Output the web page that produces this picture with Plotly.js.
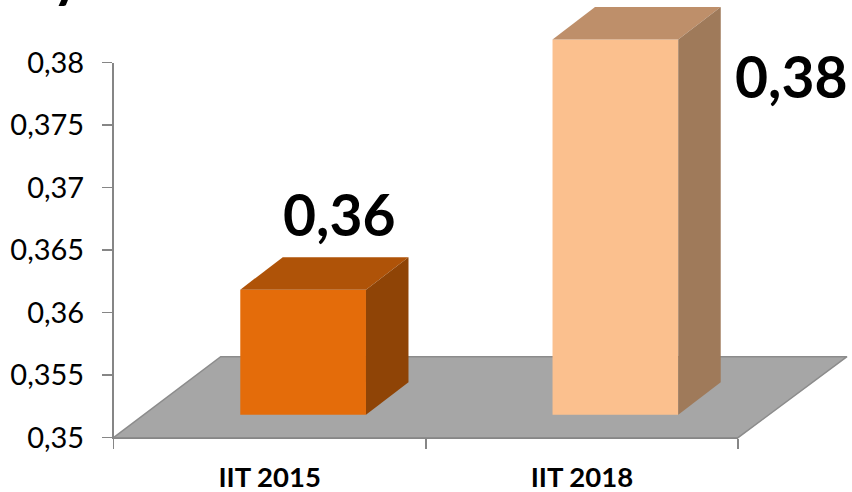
<!DOCTYPE html>
<html>
<head>
<meta charset="utf-8">
<script src="https://cdn.plot.ly/plotly-3.0.1.min.js"></script>
<style>html,body{margin:0;padding:0;background:#fff;overflow:hidden}#c{width:852px;height:492px}</style>
</head>
<body>
<div id="c"></div>
<script>
var categories = ['IIT 2015', 'IIT 2018'];
var values = [0.36, 0.38];
var valueLabels = ['0,36', '0,38'];
var tickValues = [0.35, 0.355, 0.36, 0.365, 0.37, 0.375, 0.38];
var tickLabels = ['0,35', '0,355', '0,36', '0,365', '0,37', '0,375', '0,38'];
var frontColors = ['#E46C0A', '#FBC08E'];
var topColors = ['#AF5308', '#BE8F6A'];
var sideColors = ['#8F4406', '#9F7A5A'];

var W = 852, H = 492;
var axL = 113.5, axR = 738, axB = 437.7, axT = 62.5;
var pxX = (axR - axL) / 2, pxY = (axB - axT) / 0.03;
var fullX = [-0.5 - axL / pxX, -0.5 + (W - axL) / pxX];
var fullY = [0.35 - (H - axB) / pxY, 0.35 + axB / pxY];

var barW = 125.7 / pxX, shiftX = 33.5 / pxX, shiftY = 23 / pxY;
var depthX = 42.5 / pxX, depthY = 32.5 / pxY;

var traces = [];
// floor
traces.push({
  type: 'scatter', mode: 'lines', xaxis: 'x', yaxis: 'y', fill: 'toself',
  x: [-0.5, 1.5, 1.5 + 109 / pxX, -0.5 + 107.2 / pxX, -0.5],
  y: [0.35, 0.35, 0.35 + 81 / pxY, 0.35 + 81 / pxY, 0.35],
  fillcolor: '#A6A6A6', line: {color: '#8C8C8C', width: 1.5},
  hoverinfo: 'skip', showlegend: false
});
// category axis carrier
traces.push({
  type: 'bar', xaxis: 'x2', yaxis: 'y2', x: categories, y: values,
  marker: {color: 'rgba(0,0,0,0)'}, hoverinfo: 'skip', showlegend: false, cliponaxis: true
});
// bars: front, top, side
var fx = values.map(function (v, i) { return i + shiftX; });
traces.push({
  type: 'bar', xaxis: 'x3', yaxis: 'y3', x: fx,
  y: values.map(function (v) { return v - 0.35; }),
  base: values.map(function () { return 0.35 + shiftY; }),
  width: values.map(function () { return barW; }),
  marker: {color: frontColors, line: {width: 0}},
  hoverinfo: 'skip', showlegend: false
});
values.forEach(function (v, i) {
  var l = fx[i] - barW / 2, r = fx[i] + barW / 2, b = 0.35 + shiftY, t = v + shiftY;
  traces.push({
    type: 'scatter', mode: 'lines', xaxis: 'x3', yaxis: 'y3', fill: 'toself',
    x: [l, r, r + depthX, l + depthX, l],
    y: [t, t, t + depthY, t + depthY, t],
    fillcolor: topColors[i], line: {width: 0}, hoverinfo: 'skip', showlegend: false
  });
  traces.push({
    type: 'scatter', mode: 'lines', xaxis: 'x3', yaxis: 'y3', fill: 'toself',
    x: [r, r + depthX, r + depthX, r, r],
    y: [b, b + depthY, t + depthY, t, b],
    fillcolor: sideColors[i], line: {width: 0}, hoverinfo: 'skip', showlegend: false
  });
});

var hidden = {visible: false, fixedrange: true};
var labelPos = [{x: 339.5, y: 214}, {x: 791.5, y: 76}];
var layout = {
  width: W, height: H, autosize: false,
  margin: {l: 0, r: 0, t: 0, b: 0, pad: 0},
  paper_bgcolor: '#fff', plot_bgcolor: 'rgba(0,0,0,0)',
  showlegend: false, barmode: 'overlay',
  font: {family: 'Lato, sans-serif', color: '#000'},
  xaxis: Object.assign({domain: [0, 1], range: fullX, anchor: 'y'}, hidden),
  yaxis: Object.assign({domain: [0, 1], range: fullY, anchor: 'x'}, hidden),
  xaxis2: {
    domain: [axL / W, axR / W], anchor: 'y2', type: 'category', range: [-0.5, 1.5],
    categoryorder: 'array', categoryarray: categories, tickson: 'boundaries',
    showline: true, linecolor: '#868686', linewidth: 1.5, showgrid: false, zeroline: false,
    ticks: 'outside', ticklen: 10, tickwidth: 1.5, tickcolor: '#868686',
    ticklabelstandoff: 15, tickfont: {family: 'Lato, sans-serif', size: 27.5, color: '#000', weight: 'bold'},
    fixedrange: true
  },
  yaxis2: {
    domain: [(H - axB) / H, (H - axT) / H], anchor: 'x2', range: [0.35, 0.38],
    tickvals: tickValues, ticktext: tickLabels,
    showline: true, linecolor: '#868686', linewidth: 1.5, showgrid: false, zeroline: false,
    ticks: 'outside', ticklen: 10, tickwidth: 1.5, tickcolor: '#868686',
    ticklabelstandoff: 12, tickfont: {family: 'Lato, sans-serif', size: 29, color: '#000'},
    fixedrange: true
  },
  xaxis3: Object.assign({domain: [0, 1], range: fullX, anchor: 'y3'}, hidden),
  yaxis3: Object.assign({domain: [0, 1], range: fullY, anchor: 'x3'}, hidden),
  annotations: valueLabels.map(function (t, i) {
    return {
      text: '<b>' + t + '</b>', showarrow: false, xref: 'x3', yref: 'y3',
      x: -0.5 + (labelPos[i].x - axL) / pxX, y: 0.35 + (axB - labelPos[i].y) / pxY,
      xanchor: 'center', yanchor: 'middle',
      font: {family: 'Lato, sans-serif', size: 57, color: '#000'}
    };
  }).concat([{
    text: '<b>y</b>', showarrow: false, xref: 'x3', yref: 'paper',
    x: -0.5 + (67 - axL) / pxX, y: 1, yshift: -10,
    xanchor: 'center', yanchor: 'bottom',
    font: {family: 'Lato, sans-serif', size: 57, color: '#000'}
  }])
};
Plotly.newPlot('c', traces, layout, {displayModeBar: false, staticPlot: true});
</script>
</body>
</html>
